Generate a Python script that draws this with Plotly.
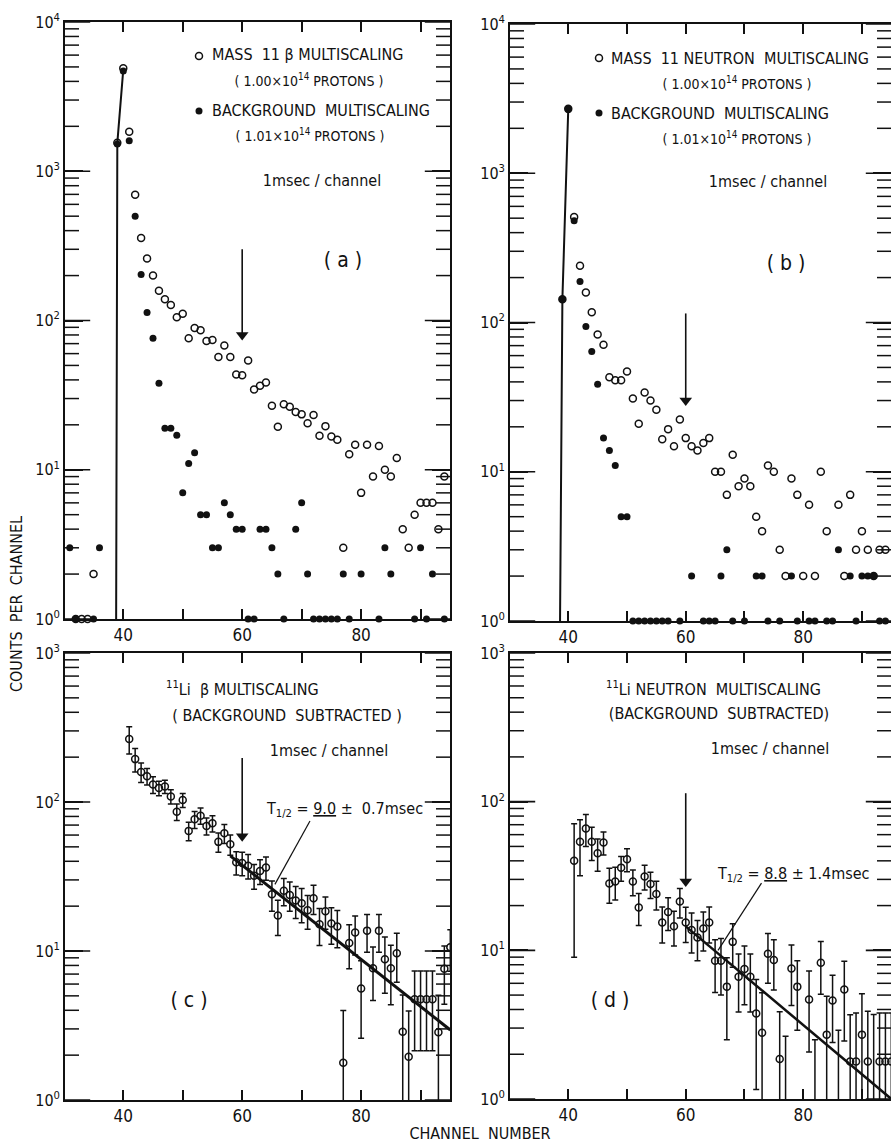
import plotly.graph_objects as go

# ---------------- DATA ----------------
# Panel (a): mass 11 beta multiscaling (open) and background (filled)
a_gross_ch = [32, 33, 34, 35] + list(range(39, 96))
a_gross = [1, 1, 1, 2,
           1550, 4900, 1840, 695, 357, 260, 200, 158, 139, 127,
           105, 111, 76, 89, 86, 73, 74, 57, 68, 57,
           43.5, 43, 54, 34.5, 36.5, 38.4, 26.8, 19.4, 27.5, 26.4,
           24.4, 23.5, 20.5, 23.3, 16.9, 19.6, 16.7, 15.9, 3, 12.7,
           14.7, 7, 14.7, 9, 14.4, 10, 9, 12, 4, 3,
           5, 6, 6, 6, 4, 9, 11]
a_bg_ch = [31, 32, 35, 36] + list(range(39, 68)) + [69, 70, 71] + list(range(72, 79)) + [80, 83, 84, 85, 89, 90, 91, 92, 94]
a_bg = [3, 1, 1, 3,
        1520, 4700, 1600, 500, 203, 113, 76, 38, 19, 19,
        17, 7, 11, 13, 5, 5, 3, 3, 6, 5,
        4, 4, 1, 1, 4, 4, 3, 2, 1,
        4, 6, 2,
        1, 1, 1, 1, 1, 2, 1,
        2, 1, 3, 2, 1, 3, 1, 2, 1]
a_rise_ch = [38.8, 39, 40]
a_rise = [1, 1550, 4800]

# Panel (b): mass 11 neutron multiscaling and background
b_gross_ch = list(range(39, 85)) + list(range(86, 96))
b_gross = [143, 2700, 510, 240, 159, 117, 83, 71, 43, 41,
           41, 47, 31, 21, 34, 30, 26, 16.5, 19.3, 14.8,
           22.4, 16.8, 14.8, 13.9, 15.6, 16.8, 10, 10, 7, 13,
           8, 9, 8, 5, 4, 11, 10, 3, 2, 9,
           7, 2, 6, 2, 10, 4,
           6, 2, 7, 3, 4, 3, 2, 3, 3, 3]
b_bg_ch = list(range(39, 58)) + [59, 61, 63, 64, 65, 66, 67, 68, 70, 72, 73, 74, 76, 78, 79,
                                 81, 82, 84, 85, 86, 88, 89, 90, 91, 92, 93, 94]
b_bg = [143, 2700, 480, 188, 94, 64, 38.5, 16.8, 13.9, 11,
        5, 5, 1, 1, 1, 1, 1, 1, 1,
        1, 2, 1, 1, 1, 2, 3, 1, 1, 2, 2, 1, 1, 2, 1,
        1, 1, 1, 1, 3, 2, 1, 2, 2, 2, 1, 1]
b_rise_ch = [38.6, 39, 40]
b_rise = [1, 143, 2700]

# Panel (c): 11Li beta, background subtracted
c_ch = list(range(41, 96))
c_val = [265, 194, 159, 149, 131, 124, 127, 109, 86, 103,
         64, 76.5, 81, 69, 72, 54, 61.6, 52, 39.4, 39,
         37.4, 32, 34.4, 36.3, 24, 17.3, 25.4, 23.8, 21.8, 20.9,
         18.8, 22.6, 15.1, 18.5, 15.3, 14.6, 1.78, 11.3, 13.3, 5.6,
         13.7, 7.65, 13.7, 8.8, 7.65, 9.66, 2.87, 1.95, 4.74, 4.74,
         4.74, 4.74, 2.85, 7.6, 10.6]
c_err = [55, 35, 24, 19, 17, 14, 13, 12, 11, 11,
         9, 10, 10, 9, 9, 8, 9, 8, 7, 7,
         7, 6, 6.5, 6.5, 5.5, 4.6, 5.3, 5.3, 5.3, 5.4,
         4.8, 5, 4.2, 4.5, 4.2, 4.1, 2.2, 3.7, 3.9, 3,
         3.9, 3, 3.9, 3.6, 3.3, 3.5, 2.2, 2, 2.6, 2.6,
         2.6, 2.6, 2.2, 3.2, 3.3]
c_fit_ch = [58, 95]
c_fit = [43.5, 2.95]

# Panel (d): 11Li neutron, background subtracted (0.5 = below axis, only bar visible)
d_ch = list(range(41, 80)) + list(range(81, 96))
d_val = [40, 53.7, 66, 53.7, 45, 53.2, 28.2, 29, 36, 41,
         29, 19.4, 31.4, 27.9, 23.9, 15.4, 18.1, 14.5, 21.3, 15.4,
         13.7, 12.2, 14, 15.4, 8.5, 8.5, 5.7, 11.4, 6.65, 7.5,
         6.65, 3.76, 2.79, 9.5, 8.6, 1.86, 0.5, 7.56, 5.7,
         4.67, 0.5, 8.26, 2.71, 4.6, 0.5, 5.46, 1.79, 1.79, 2.71,
         1.79, 0.5, 1.79, 1.79, 1.79]
d_err = [31, 22, 16, 13.5, 11, 9.4, 7.5, 7.2, 6.8, 7.2,
         5.7, 4.7, 5.9, 5.6, 5.2, 4.2, 4.5, 3.8, 4.8, 4.1,
         4.1, 3.7, 4.1, 4.2, 3.3, 3.5, 3.2, 3.7, 2.8, 3.2,
         2.8, 2.6, 2.4, 3.5, 3.2, 2, 2.14, 3.3, 2.8,
         2.6, 2.0, 3.2, 2.2, 2.2, 2.4, 3.0, 1.9, 2.0, 2.4,
         2.1, 3.2, 2.0, 2.0, 2.0]
d_fit_ch = [60, 95]
d_fit = [14.5, 1.0]

# arrows at channel 60 (tail value, tip value) and T1/2 leader lines
arrow_ch = 60
arrow_a = [300, 80]
arrow_b = [115, 30]
arrow_c = [197, 59]
arrow_d = [114, 29]
leader_c_ch, leader_c = [71.4, 65.5], [74.5, 28]
leader_d_ch, leader_d = [72.9, 65.5], [28.3, 10]

x_tickvals = [40, 50, 60, 70, 80, 90]
x_ticktext = ["40", "", "60", "", "80", ""]
x_range_left = [30.2, 94.95]
x_range_right = [30.08, 94.95]

# panel texts: pixel position, text, size, anchor
label_x = [212, 212, 611, 611, 166, 267, 606, 718,
           309, 310, 322, 343, 737, 737, 768, 786, 287, 329, 189, 719, 770, 610, 480]
label_y = [56, 112, 60, 115, 691, 810, 691, 875,
           82, 137, 182, 262, 85, 140, 183, 265, 717, 752, 1002, 715, 750, 1002, 1135]
label_text = ["MASS  11 β MULTISCALING", "BACKGROUND  MULTISCALING",
              "MASS  11 NEUTRON  MULTISCALING", "BACKGROUND  MULTISCALING",
              "<sup>11</sup>Li  β MULTISCALING", "T<sub>1/2</sub> = <u>9.0</u> ±  0.7msec",
              "<sup>11</sup>Li NEUTRON  MULTISCALING", "T<sub>1/2</sub> = <u>8.8</u> ± 1.4msec",
              "( 1.00×10<sup>14</sup> PROTONS )", "( 1.01×10<sup>14</sup> PROTONS )",
              "1msec / channel", "( a )",
              "( 1.00×10<sup>14</sup> PROTONS )", "( 1.01×10<sup>14</sup> PROTONS )",
              "1msec / channel", "( b )",
              "( BACKGROUND  SUBTRACTED )", "1msec / channel", "( c )",
              "(BACKGROUND  SUBTRACTED)", "1msec / channel", "( d )",
              "CHANNEL  NUMBER"]
label_size = [16] * 8 + [14, 14, 16, 21, 14, 14, 16, 21, 16, 16, 21, 16, 16, 21, 16]
label_pos = ["middle right"] * 8 + ["middle center"] * 15
key_x = [199, 599]
key_open_y = [56, 58]
key_fill_y = [111, 113]

# ---------------- FIGURE ----------------
W, H = 891, 1144
FONT = "DejaVu Sans Condensed, DejaVu Sans, sans-serif"
INK = "#111111"


def px(x):
    return x / W


def py(y):
    return 1 - y / H


fig = go.Figure()
open_marker = dict(symbol="circle-open", size=7, color=INK, line=dict(width=1.5, color=INK))
fill_marker = dict(symbol="circle", size=7, color=INK)


def minor_vals(top_exp):
    return [m * 10 ** e for e in range(top_exp) for m in range(2, 10)]


def major_vals(top_exp):
    return [10 ** e for e in range(top_exp + 1)]


def add_frame_ticks(xa, ya, xrng, top_exp):
    lo, hi = xrng
    mnr = minor_vals(top_exp)
    maj = major_vals(top_exp)
    fig.add_trace(go.Scatter(x=[lo] * len(mnr) + [hi] * len(mnr), y=mnr + mnr, mode="markers",
                             marker=dict(symbol="line-ew", size=20, color=INK, line=dict(width=1.5, color=INK)),
                             xaxis=xa, yaxis=ya, cliponaxis=True, hoverinfo="skip"))
    fig.add_trace(go.Scatter(x=[lo] * len(maj) + [hi] * len(maj), y=maj + maj, mode="markers",
                             marker=dict(symbol="line-ew", size=36, color=INK, line=dict(width=1.6, color=INK)),
                             xaxis=xa, yaxis=ya, cliponaxis=True, hoverinfo="skip"))


def add_arrow(xa, ya, vals):
    fig.add_trace(go.Scatter(x=[arrow_ch, arrow_ch], y=vals, mode="lines",
                             line=dict(color=INK, width=1.6), xaxis=xa, yaxis=ya, hoverinfo="skip"))
    fig.add_trace(go.Scatter(x=[arrow_ch], y=[vals[1]], mode="markers",
                             marker=dict(symbol="triangle-down", size=11, color=INK, line=dict(width=0)),
                             xaxis=xa, yaxis=ya, hoverinfo="skip"))


# (a)
add_frame_ticks("x", "y", x_range_left, 4)
add_arrow("x", "y", arrow_a)
fig.add_trace(go.Scatter(x=a_rise_ch, y=a_rise, mode="lines", line=dict(color=INK, width=2),
                         xaxis="x", yaxis="y", cliponaxis=False))
fig.add_trace(go.Scatter(x=a_gross_ch, y=a_gross, mode="markers", marker=open_marker,
                         xaxis="x", yaxis="y", cliponaxis=False))
fig.add_trace(go.Scatter(x=a_bg_ch, y=a_bg, mode="markers", marker=fill_marker,
                         xaxis="x", yaxis="y", cliponaxis=False))
# (b)
add_frame_ticks("x2", "y2", x_range_right, 4)
add_arrow("x2", "y2", arrow_b)
fig.add_trace(go.Scatter(x=b_rise_ch, y=b_rise, mode="lines", line=dict(color=INK, width=2),
                         xaxis="x2", yaxis="y2", cliponaxis=False))
fig.add_trace(go.Scatter(x=b_gross_ch, y=b_gross, mode="markers", marker=open_marker,
                         xaxis="x2", yaxis="y2", cliponaxis=False))
fig.add_trace(go.Scatter(x=b_bg_ch, y=b_bg, mode="markers", marker=fill_marker,
                         xaxis="x2", yaxis="y2", cliponaxis=False))
# (c)
add_frame_ticks("x3", "y3", x_range_left, 3)
add_arrow("x3", "y3", arrow_c)
fig.add_trace(go.Scatter(x=leader_c_ch, y=leader_c, mode="lines", line=dict(color=INK, width=1.2),
                         xaxis="x3", yaxis="y3", hoverinfo="skip"))
fig.add_trace(go.Scatter(x=c_fit_ch, y=c_fit, mode="lines", line=dict(color=INK, width=3),
                         xaxis="x3", yaxis="y3"))
fig.add_trace(go.Scatter(x=c_ch, y=c_val, mode="markers", marker=open_marker,
                         error_y=dict(type="data", array=c_err, color=INK, thickness=1.5, width=3),
                         xaxis="x3", yaxis="y3"))
# (d)
add_frame_ticks("x4", "y4", x_range_right, 3)
add_arrow("x4", "y4", arrow_d)
fig.add_trace(go.Scatter(x=leader_d_ch, y=leader_d, mode="lines", line=dict(color=INK, width=1.2),
                         xaxis="x4", yaxis="y4", hoverinfo="skip"))
fig.add_trace(go.Scatter(x=d_fit_ch, y=d_fit, mode="lines", line=dict(color=INK, width=2.5),
                         xaxis="x4", yaxis="y4"))
fig.add_trace(go.Scatter(x=d_ch, y=d_val, mode="markers", marker=open_marker,
                         error_y=dict(type="data", array=d_err, color=INK, thickness=1.5, width=3),
                         xaxis="x4", yaxis="y4"))

# text overlay in page pixel coordinates
fig.add_trace(go.Scatter(x=label_x, y=label_y, text=label_text, mode="text", textposition=label_pos,
                         textfont=dict(family=FONT, size=label_size, color=INK),
                         xaxis="x5", yaxis="y5", cliponaxis=False, hoverinfo="skip"))
fig.add_trace(go.Scatter(x=key_x, y=key_open_y, mode="markers", marker=open_marker,
                         xaxis="x5", yaxis="y5", cliponaxis=False, hoverinfo="skip"))
fig.add_trace(go.Scatter(x=key_x, y=key_fill_y, mode="markers", marker=fill_marker,
                         xaxis="x5", yaxis="y5", cliponaxis=False, hoverinfo="skip"))


def xax(domain, rng, anchor):
    return dict(domain=domain, range=rng, anchor=anchor, tickmode="array", tickvals=x_tickvals,
                ticktext=x_ticktext, ticks="inside", ticklen=10, tickwidth=1.6, tickcolor=INK,
                showline=True, linewidth=1.6, linecolor=INK, mirror="allticks",
                showgrid=False, zeroline=False,
                tickfont=dict(family=FONT, size=17, color=INK))


def yax(domain, top_exp, anchor):
    tv = major_vals(top_exp)
    tt = ["10<sup>%d</sup>" % e for e in range(top_exp + 1)]
    return dict(domain=domain, type="log", range=[0, top_exp], anchor=anchor, tickmode="array",
                tickvals=tv, ticktext=tt, ticks="inside", ticklen=18, tickwidth=1.6, tickcolor=INK,
                showline=True, linewidth=1.6, linecolor=INK, mirror="allticks",
                showgrid=False, zeroline=False,
                tickfont=dict(family=FONT, size=16, color=INK))


xa_dom = [px(65), px(450)]
xb_dom = [px(510), 1.0]

fig.update_layout(
    template="none",
    width=W, height=H, margin=dict(l=0, r=0, t=0, b=0),
    paper_bgcolor="white", plot_bgcolor="rgba(0,0,0,0)", showlegend=False,
    font=dict(family=FONT, color=INK),
    xaxis=xax(xa_dom, x_range_left, "y"),
    yaxis=yax([py(619), py(22)], 4, "x"),
    xaxis2=xax(xb_dom, x_range_right, "y2"),
    yaxis2=yax([py(621), py(24)], 4, "x2"),
    xaxis3=xax(xa_dom, x_range_left, "y3"),
    yaxis3=yax([py(1100), py(653)], 3, "x3"),
    xaxis4=xax(xb_dom, x_range_right, "y4"),
    yaxis4=yax([py(1099), py(653)], 3, "x4"),
    xaxis5=dict(domain=[0, 1], range=[0, W], visible=False, anchor="y5", fixedrange=True),
    yaxis5=dict(domain=[0, 1], range=[H, 0], visible=False, anchor="x5", fixedrange=True),
    # free axis used only to carry the rotated y title, centred between the panels
    yaxis6=dict(domain=[0, py(64)], range=[0, 1], anchor="free", position=px(36), side="left",
                showline=False, showticklabels=False, ticks="", showgrid=False, zeroline=False,
                fixedrange=True,
                title=dict(text="COUNTS  PER  CHANNEL", standoff=8,
                           font=dict(family=FONT, size=16, color=INK))),
)

fig.add_trace(go.Scatter(x=[None], y=[None], xaxis="x5", yaxis="y6", hoverinfo="skip"))

fig.write_html("out.html")
